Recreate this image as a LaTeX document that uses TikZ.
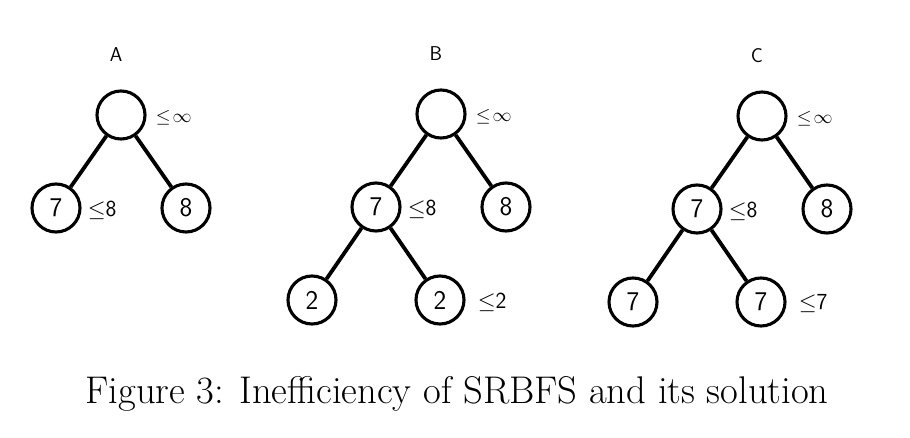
\RequirePackage{fix-cm}
\documentclass[tikz,border=0pt]{standalone}
\usepackage{fontspec}
\usetikzlibrary{positioning}
\begin{document}
\begin{tikzpicture}[x=1pt,y=-1pt]
\tikzset{knode/.style={draw,circle,line width=3.1pt,minimum size=48pt,inner sep=0pt,font=\sffamily\fontsize{27}{27}\selectfont},
  kedge/.style={line width=3.8pt},
  kbound/.style={inner sep=1pt,font=\sffamily\fontsize{23}{23}\selectfont},
  kinf/.style={inner sep=1pt,font=\fontsize{19}{19}\selectfont},
  ktitle/.style={font=\sffamily\fontsize{20}{20}\selectfont}}
\useasboundingbox (0,0) rectangle (910,438);
% the three trees: root, first level
\foreach \t/\kx/\ky in {A/121/115,B/441/114,C/762/116}{
\node[knode](r\t) at (\kx,\ky){};
\node[ktitle](t\t) at (\kx-5,\ky-60){\t};
\node[kinf,right=8pt of r\t,yshift=-3pt](br\t){$\le\!\infty$};
\node[knode](l\t) at (\kx-65,\ky+93){7};
\node[knode](m\t) at (\kx+65,\ky+93){8};
\node[kbound,right=5pt of l\t,yshift=-2pt](bl\t){$\le$8};
\draw[kedge](r\t)--(l\t);
\draw[kedge](r\t)--(m\t);
}
% second level of B and C
\foreach \t/\kx/\ky/\kv in {B/441/114/2,C/762/116/7}{
\node[knode](a\t) at (\kx-129,\ky+186){\kv};
\node[knode](b\t) at (\kx-1,\ky+186){\kv};
\node[kbound,right=11pt of b\t,yshift=-2pt](bb\t){$\le$\kv};
\draw[kedge](l\t)--(a\t);
\draw[kedge](l\t)--(b\t);
}
\node[anchor=base,inner sep=0pt,font=\fontsize{38.6}{44}\selectfont](cap) at (457,403){Figure 3: Inefficiency of SRBFS and its solution};
\end{tikzpicture}
\end{document}
